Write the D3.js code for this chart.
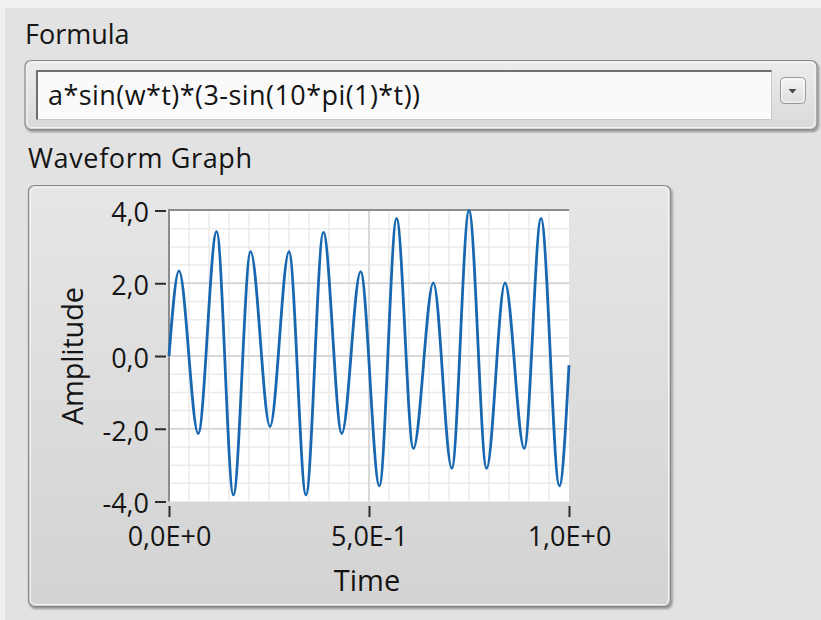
<!DOCTYPE html>
<html>
<head>
<meta charset="utf-8">
<script src="https://cdn.jsdelivr.net/npm/d3@7"></script>
<style>
  html, body { margin: 0; padding: 0; background: #f0f0f0; }
  svg { display: block; font-family: "Open Sans", "Noto Sans", sans-serif; }
</style>
</head>
<body>
<svg id="panel" width="821" height="620"></svg>
<script>
// Waveform samples (time in s, amplitude) at the turning points of the trace
const time = [0, 0.025, 0.073, 0.119, 0.161, 0.204, 0.2525, 0.300, 0.3425, 0.386, 0.432,
              0.479, 0.526, 0.569, 0.611, 0.661, 0.707, 0.750, 0.794, 0.840, 0.888,
              0.930, 0.976, 1.0];
const amplitude = [0, 2.34, -2.13, 3.42, -3.82, 2.87, -1.94, 2.87, -3.82, 3.40, -2.13,
                   2.32, -3.57, 3.78, -2.54, 2.01, -3.09, 4.00, -3.09, 2.01, -2.54,
                   3.78, -3.57, -0.25];

const yTicks = [-4, -2, 0, 2, 4];
const yTickLabels = ["-4,0", "-2,0", "0,0", "2,0", "4,0"];
const xTicks = [0, 0.5, 1];
const xTickLabels = ["0,0E+0", "5,0E-1", "1,0E+0"];
const formulaText = "a*sin(w*t)*(3-sin(10*pi(1)*t))";

const svg = d3.select("#panel");
const defs = svg.append("defs");

function vGrad(id, stops) {
  const g = defs.append("linearGradient").attr("id", id)
    .attr("x1", 0).attr("y1", 0).attr("x2", 0).attr("y2", 1);
  stops.forEach(([o, c]) => g.append("stop").attr("offset", o).attr("stop-color", c));
}
vGrad("boxFill", [[0, "#ececec"], [1, "#d9d9d9"]]);
vGrad("frameFill", [[0, "#e6e6e6"], [1, "#d3d3d3"]]);
vGrad("btnFill", [[0, "#f4f4f4"], [1, "#dcdcdc"]]);

const shadow = defs.append("filter").attr("id", "shadow")
  .attr("x", "-5%").attr("y", "-5%").attr("width", "110%").attr("height", "115%");
shadow.append("feDropShadow").attr("dx", 1.5).attr("dy", 2).attr("stdDeviation", 1.2)
  .attr("flood-color", "#000").attr("flood-opacity", 0.35);

// panel background
svg.append("rect").attr("x", 5).attr("y", 8).attr("width", 816).attr("height", 612)
  .attr("fill", "#e2e2e2");

// ---- Formula control ----
svg.append("text").attr("x", 25).attr("y", 44).attr("font-size", 27)
  .attr("fill", "#141414").text("Formula");

svg.append("rect").attr("x", 25).attr("y", 60.5).attr("width", 792).attr("height", 69)
  .attr("rx", 6).attr("fill", "url(#boxFill)").attr("stroke", "#8a8a8a")
  .attr("stroke-width", 1.2).attr("filter", "url(#shadow)");
svg.append("rect").attr("x", 27).attr("y", 62.5).attr("width", 788).attr("height", 65)
  .attr("rx", 5).attr("fill", "none").attr("stroke", "#f6f6f6").attr("stroke-width", 1);

// text field (inset)
svg.append("rect").attr("x", 36.5).attr("y", 70.5).attr("width", 735).attr("height", 49)
  .attr("fill", "#fafafa").attr("stroke", "#c9c9c9").attr("stroke-width", 1);
svg.append("path").attr("d", "M37,119.5 V71 H771.5")
  .attr("fill", "none").attr("stroke", "#6f6f6f").attr("stroke-width", 2);
svg.append("text").attr("x", 48).attr("y", 105).attr("font-size", 27)
  .attr("fill", "#141414").attr("textLength", 372).attr("lengthAdjust", "spacing")
  .text(formulaText);

// dropdown button
svg.append("rect").attr("x", 780.5).attr("y", 77.5).attr("width", 25).attr("height", 26)
  .attr("rx", 4).attr("fill", "url(#btnFill)").attr("stroke", "#9a9a9a").attr("stroke-width", 1);
svg.append("rect").attr("x", 782).attr("y", 79).attr("width", 22).attr("height", 23)
  .attr("rx", 3).attr("fill", "none").attr("stroke", "#ffffff").attr("stroke-width", 0.8);
svg.append("path").attr("d", "M788.5,89 h8 l-4,4.5 z").attr("fill", "#4a4a4a");

// ---- Waveform Graph ----
svg.append("text").attr("x", 28).attr("y", 168).attr("font-size", 27)
  .attr("fill", "#141414").attr("textLength", 224).attr("lengthAdjust", "spacing")
  .text("Waveform Graph");

svg.append("rect").attr("x", 28.5).attr("y", 185.5).attr("width", 642).attr("height", 421)
  .attr("rx", 6).attr("fill", "url(#frameFill)").attr("stroke", "#878787")
  .attr("stroke-width", 1.2).attr("filter", "url(#shadow)");
svg.append("rect").attr("x", 30.5).attr("y", 187.5).attr("width", 638).attr("height", 417)
  .attr("rx", 5).attr("fill", "none").attr("stroke", "#f3f3f3").attr("stroke-width", 1);

const x = d3.scaleLinear().domain([0, 1]).range([169, 569]);
const y = d3.scaleLinear().domain([-4, 4]).range([501.5, 210.5]);

// plot area
svg.append("rect").attr("x", x(0)).attr("y", y(4)).attr("width", x(1) - x(0))
  .attr("height", y(-4) - y(4)).attr("fill", "#ffffff");

// minor grid
const grid = svg.append("g");
grid.selectAll("line.vx").data(d3.range(1, 20).map(i => i * 0.05)).join("line")
  .attr("x1", d => x(d)).attr("x2", d => x(d)).attr("y1", y(4)).attr("y2", y(-4))
  .attr("stroke", "#ebebeb").attr("stroke-width", 1.5);
grid.selectAll("line.hy").data(d3.range(-7, 8).map(i => i * 0.5)).join("line")
  .attr("x1", x(0)).attr("x2", x(1)).attr("y1", d => y(d)).attr("y2", d => y(d))
  .attr("stroke", "#ebebeb").attr("stroke-width", 1.5);
// major grid
grid.append("g").selectAll("line").data([0.5]).join("line")
  .attr("x1", d => x(d)).attr("x2", d => x(d)).attr("y1", y(4)).attr("y2", y(-4))
  .attr("stroke", "#d2d2d2").attr("stroke-width", 1.5);
grid.append("g").selectAll("line").data([-2, 0, 2]).join("line")
  .attr("x1", x(0)).attr("x2", x(1)).attr("y1", d => y(d)).attr("y2", d => y(d))
  .attr("stroke", "#d2d2d2").attr("stroke-width", 1.5);

// plot border (inset top/left)
svg.append("path").attr("d", `M${x(0)},${y(-4)} V${y(4) - 0.5} H${x(1)}`)
  .attr("fill", "none").attr("stroke", "#8c8c8c").attr("stroke-width", 2);

// trace
const line = d3.line().x((d, i) => x(time[i])).y(d => y(d)).curve(d3.curveMonotoneX);
svg.append("path").datum(amplitude).attr("d", line)
  .attr("fill", "none").attr("stroke", "#1767b1").attr("stroke-width", 2.8)
  .attr("stroke-linejoin", "round");

// axes
const yAxis = d3.axisLeft(y).tickValues(yTicks).tickSize(11).tickPadding(6)
  .tickFormat((d, i) => yTickLabels[i]);
const gy = svg.append("g").attr("transform", "translate(166,0)").call(yAxis);
const xAxis = d3.axisBottom(x).tickValues(xTicks).tickSize(11).tickPadding(10)
  .tickFormat((d, i) => xTickLabels[i]);
const gx = svg.append("g").attr("transform", "translate(0,506)").call(xAxis);

[gx, gy].forEach(g => {
  g.select(".domain").remove();
  g.selectAll(".tick line").attr("stroke", "#2a2a2a").attr("stroke-width", 2);
  g.selectAll(".tick text").attr("fill", "#141414").attr("font-size", 27)
    .attr("font-family", "\"Open Sans\", \"Noto Sans\", sans-serif");
});
gy.selectAll(".tick line").attr("x2", -11);
gy.selectAll(".tick text").attr("dy", "0.42em");

// axis titles
svg.append("text").attr("x", x(0.5) - 2).attr("y", 591).attr("text-anchor", "middle")
  .attr("font-size", 29).attr("fill", "#141414").text("Time");
svg.append("text").attr("transform", `translate(83,${(y(4) + y(-4)) / 2}) rotate(-90)`)
  .attr("text-anchor", "middle").attr("font-size", 29).attr("fill", "#141414")
  .attr("textLength", 138).attr("lengthAdjust", "spacing")
  .text("Amplitude");
</script>
</body>
</html>
